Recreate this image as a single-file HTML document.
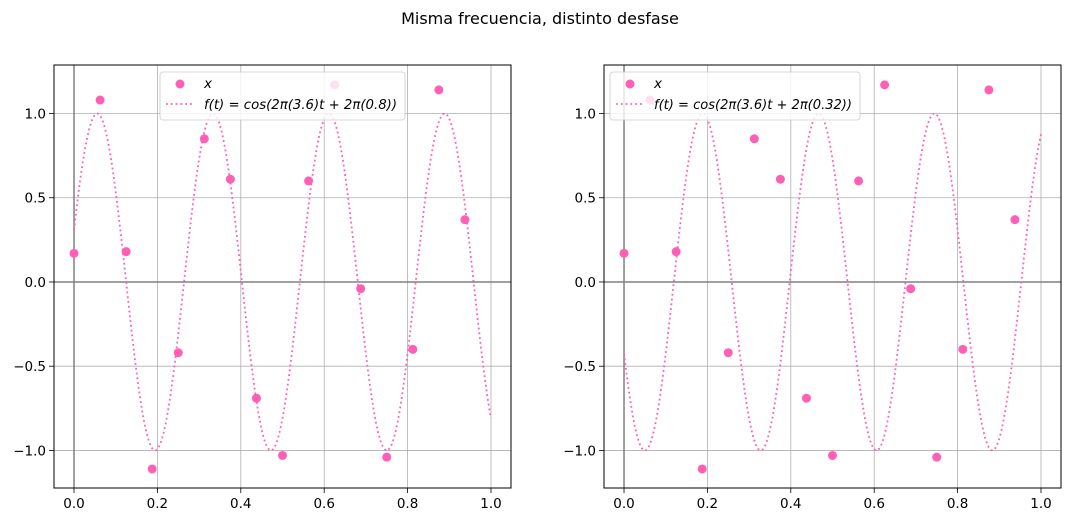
<!DOCTYPE html>
<html><head><meta charset="utf-8"><style>
body{margin:0;background:#fff;font-family:"Liberation Sans","DejaVu Sans",sans-serif}
svg text{font-family:"DejaVu Sans","Liberation Sans",sans-serif}
</style></head><body>
<svg id="c" width="1070" height="522" xmlns="http://www.w3.org/2000/svg">
<text x="540" y="24" font-size="16" text-anchor="middle">Misma frecuencia, distinto desfase</text>
</svg>
<script>
const tValues=[0,0.0625,0.125,0.1875,0.25,0.3125,0.375,0.4375,0.5,0.5625,0.625,0.6875,0.75,0.8125,0.875,0.9375];
const xValues=[0.17,1.08,0.18,-1.11,-0.42,0.85,0.61,-0.69,-1.03,0.60,1.17,-0.04,-1.04,-0.40,1.14,0.37];
const freq=3.6;
const phases=[0.8,0.32];
const xTicks=[0,0.2,0.4,0.6,0.8,1.0];
const xTickLabels=["0.0","0.2","0.4","0.6","0.8","1.0"];
const yTicks=[-1,-0.5,0,0.5,1];
const yTickLabels=["−1.0","−0.5","0.0","0.5","1.0"];
const svg=document.getElementById('c');
const NS='http://www.w3.org/2000/svg';
const col='#ff5fb4';
function mk(tag,attrs,parent){const e=document.createElementNS(NS,tag);for(const k in attrs)e.setAttribute(k,attrs[k]);(parent||svg).appendChild(e);return e;}
const panels=[{x0:54,x1:511},{x0:604,x1:1061}];
const yTop=65,yBot=488,xmin=-0.048,xmax=1.048,ymin=-1.223,ymax=1.288;
panels.forEach((p,pi)=>{
  const g=mk('g',{});
  
  
  const sx=v=>p.x0+(v-xmin)/(xmax-xmin)*(p.x1-p.x0);
  const sy=v=>yBot-(v-ymin)/(ymax-ymin)*(yBot-yTop);
  xTicks.forEach((t,i)=>{
    const l=mk('line',{x1:sx(t),x2:sx(t),y1:yTop,y2:yBot,stroke:'#b0b0b0','stroke-width':0.8},g);
    
    mk('line',{x1:sx(t),x2:sx(t),y1:yBot,y2:yBot+5,stroke:'#000','stroke-width':0.8},g);
    const tx=mk('text',{x:sx(t),y:yBot+20,'font-size':13.5,'text-anchor':'middle'},g);tx.textContent=xTickLabels[i];
    
  });
  yTicks.forEach((t,i)=>{
    const l=mk('line',{x1:p.x0,x2:p.x1,y1:sy(t),y2:sy(t),stroke:'#b0b0b0','stroke-width':0.8},g);
    
    mk('line',{x1:p.x0-5,x2:p.x0,y1:sy(t),y2:sy(t),stroke:'#000','stroke-width':0.8},g);
    const tx=mk('text',{x:p.x0-8,y:sy(t)+5,'font-size':13.5,'text-anchor':'end'},g);tx.textContent=yTickLabels[i];
    
  });
  const ax=mk('line',{x1:p.x0,x2:p.x1,y1:sy(0),y2:sy(0),stroke:'#808080','stroke-width':1.5},g);
  
  const av=mk('line',{x1:sx(0),x2:sx(0),y1:yTop,y2:yBot,stroke:'#808080','stroke-width':1.5},g);
  
  let d='';
  for(let i=0;i<=500;i++){const t=i/500;const v=Math.cos(2*Math.PI*(freq*t+phases[pi]));d+=(i?'L':'M')+sx(t).toFixed(2)+' '+sy(v).toFixed(2);}
  const cp=mk('path',{d:d,fill:'none',stroke:col,'stroke-width':1.8,'stroke-dasharray':'1.8 3'},g);
  
  tValues.forEach((t,i)=>{
    const c=mk('circle',{cx:sx(t),cy:sy(xValues[i]),r:4.5,fill:col},g);
    
  });
  const fr=mk('rect',{x:p.x0,y:yTop,width:p.x1-p.x0,height:yBot-yTop,fill:'none',stroke:'#000','stroke-width':1},g);
  
  const lx=pi===0?160:610, lw=pi===0?245:250;
  const lg=mk('g',{},g);
  
  mk('rect',{x:lx,y:72,width:lw,height:48,rx:3,fill:'#fff','fill-opacity':0.8,stroke:'#ccc','stroke-width':0.8},lg);
  mk('circle',{cx:lx+20,cy:84,r:4.5,fill:col},lg);
  const t1=mk('text',{x:lx+44,y:88,'font-size':13.5,'font-style':'italic'},lg);t1.textContent='x';
  mk('line',{x1:lx+6,x2:lx+34,y1:104,y2:104,stroke:col,'stroke-width':1.8,'stroke-dasharray':'1.8 3'},lg);
  const t2=mk('text',{x:lx+44,y:109,'font-size':13.5,'font-style':'italic','textLength':pi===0?193:198,'lengthAdjust':'spacingAndGlyphs'},lg);
  t2.textContent='f(t) = cos(2π(3.6)t + 2π('+phases[pi]+'))';
});
</script>
</body></html>
